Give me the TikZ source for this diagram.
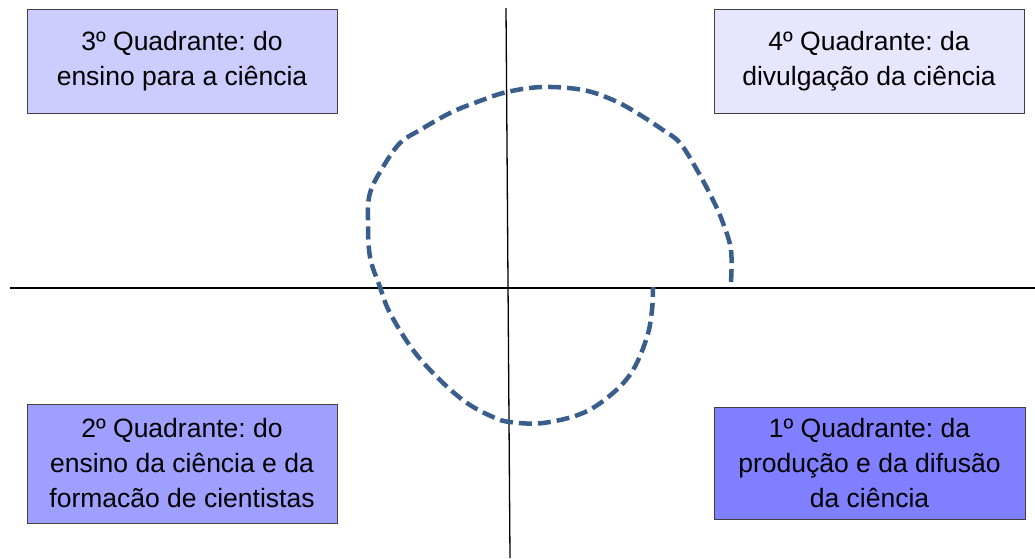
\documentclass[tikz,border=0pt]{standalone}
\usepackage{fontspec}
\setmainfont{Liberation Sans}
\usetikzlibrary{positioning}
\definecolor{quadA}{HTML}{CCCCFF}
\definecolor{quadB}{HTML}{E6E6FF}
\definecolor{quadC}{HTML}{9F9FFF}
\definecolor{quadD}{HTML}{7F7FFF}
\definecolor{spiral}{HTML}{3A5E8C}
\tikzset{
    quadbox/.style={
        draw=black!75,
        line width=1pt,
        minimum width=310pt,
        align=center,
        font=\fontsize{26.5}{35}\selectfont\frenchspacing
    },
    axis/.style={line width=1.3pt},
    spiralline/.style={draw=spiral, line width=4.5pt, dash pattern=on 13pt off 6pt}
}
\begin{document}
\begin{tikzpicture}[x=1pt, y=-1pt]
\useasboundingbox (0,0) rectangle (1035,558);

\coordinate (xl) at (10,288);
\coordinate (xr) at (1035,288);
\coordinate (yt) at (506,8);
\coordinate (yb) at (510,558);

\draw[axis] (xl) -- (xr);
\draw[axis] (yt) -- (yb);

\node[quadbox, fill=quadA, minimum height=104pt] (q3) at (182,61.5)
    {3º Quadrante: do\\ensino para a ciência};
\node[quadbox, fill=quadB, minimum height=104pt] (q4) at (869,61.5)
    {4º Quadrante: da\\divulgação da ciência};
\node[quadbox, fill=quadC, minimum height=119pt] (q2) at (182,463.5)
    {2º Quadrante: do\\ensino da ciência e da\\formacão de cientistas};
\node[quadbox, fill=quadD, minimum height=112pt, minimum width=311pt] (q1) at (869.5,463)
    {1º Quadrante: da\\produção e da difusão\\da ciência};

% spiral through the four quadrants
\draw[spiralline] plot[smooth, tension=0.6] coordinates {
    (731,282) (731,250) (723,223) (713,200) (697,170) (680,143) (663,130)
    (637,113) (613,100) (583,90) (543,87) (507,92) (477,102) (450,113)
    (420,130) (400,143) (383,167) (370,193) (368,220) (370,257) (380,287)
    (390,313) (413,350) (440,380) (467,403) (493,417) (510,422) (543,423)
    (583,413) (613,393) (633,370) (647,337) (652,310) (653,287)};

\end{tikzpicture}
\end{document}
